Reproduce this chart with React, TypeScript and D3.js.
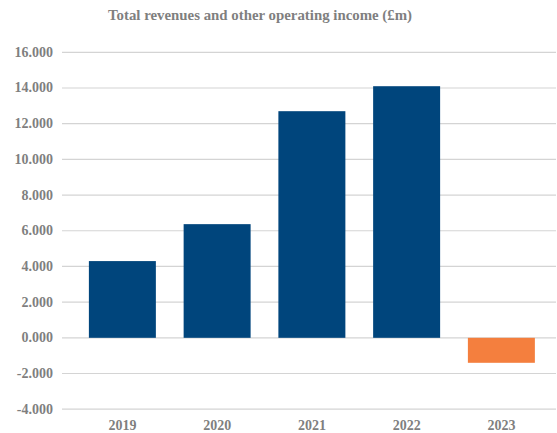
import React from "react";
import * as d3 from "d3";

const categories = ["2019", "2020", "2021", "2022", "2023"];
const values = [4.3, 6.37, 12.7, 14.1, -1.4];
const yTicks = [-4, -2, 0, 2, 4, 6, 8, 10, 12, 14, 16];
const title = "Total revenues and other operating income (£m)";

const W = 557, H = 433;
const BLUE = "#00457c";
const ORANGE = "#f47f3e";
const TEXT = "#7f7f7f";
const FONT = "'Liberation Serif', serif";

export default function App() {
  const y = d3.scaleLinear().domain([-4, 16]).range([409.2, 52.3]);
  const x = d3.scaleBand().domain(categories).range([75, 548.75]).paddingInner(0.293).paddingOuter(0.1465);
  return (
    <svg width={W} height={H} style={{ position: "absolute", left: 0, top: 0 }}>
      <text x={108} y={20} fill={TEXT} fontFamily={FONT} fontWeight="bold" fontSize={14.5} textLength={304} lengthAdjust="spacingAndGlyphs">{title}</text>
      {yTicks.map((t) => (
        <g key={t}>
          <line x1={62} x2={556} y1={y(t)} y2={y(t)} stroke="#d4d4d4" strokeWidth={1.2} />
          <text x={53} y={y(t) + 4.5} textAnchor="end" fill={TEXT} fontFamily={FONT} fontWeight="bold" fontSize={14}>
            {d3.format(".3f")(t).replace("−", "-")}
          </text>
        </g>
      ))}
      {categories.map((c, i) => {
        const v = values[i];
        return (
          <rect key={c} x={x(c)} width={x.bandwidth()} y={y(Math.max(0, v))} height={Math.abs(y(v) - y(0))} fill={v >= 0 ? BLUE : ORANGE} />
        );
      })}
      {categories.map((c) => (
        <text key={c} x={(x(c) as number) + x.bandwidth() / 2} y={430} textAnchor="middle" fill={TEXT} fontFamily={FONT} fontWeight="bold" fontSize={14}>{c}</text>
      ))}
    </svg>
  );
}
